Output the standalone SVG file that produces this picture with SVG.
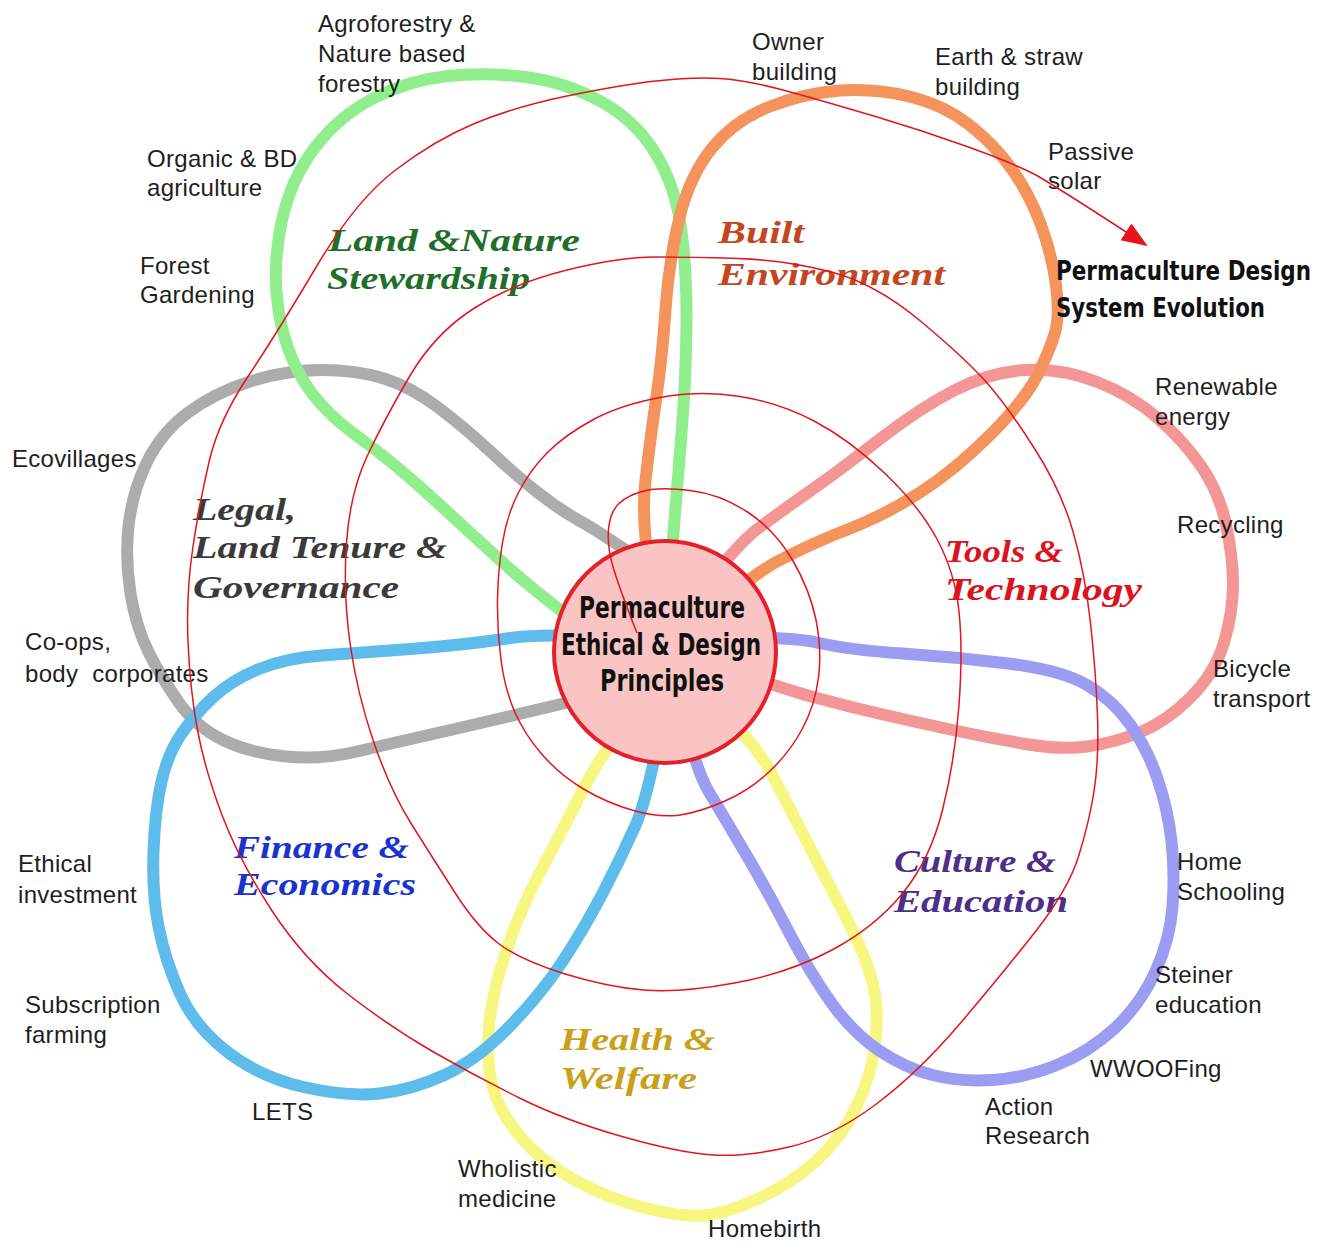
<svg xmlns="http://www.w3.org/2000/svg" width="1333" height="1243" viewBox="0 0 1333 1243">
<style>
.petal{fill:none;stroke-width:12;stroke-linecap:round;stroke-linejoin:round}
.lbl{font-family:"Liberation Sans",Arial,sans-serif;font-size:24px;fill:#1e1e1e;letter-spacing:0.3px}
.ttl{font-family:"Liberation Serif","DejaVu Serif",serif;font-style:italic;font-weight:bold;font-size:32px}
.core{font-family:"Liberation Sans Narrow","DejaVu Sans Condensed","Liberation Sans",sans-serif;font-weight:bold;fill:#111}
.spiral{fill:none;stroke:#e3141e;stroke-width:1.5}
</style>
<defs>
<marker id="arr" markerUnits="userSpaceOnUse" markerWidth="30" markerHeight="24" refX="24" refY="10" orient="auto">
<path d="M0,0 L26,10 L0,20 z" fill="#e8141c"/>
</marker>
</defs>
<rect width="1333" height="1243" fill="#ffffff"/>

<g id="legal">
<path class="petal" stroke="#acacac" d="M655,570 Q600,532 580,521 Q560,510 539,493.5 Q518,477 491,452 Q464,427 437.5,407 Q411,387 384,378.5 Q357,370 321.5,370 Q286,370 250,381.5 Q214,393 187.5,413 Q161,433 146.5,463 Q132,493 128.5,526.5 Q125,560 130.5,593.5 Q136,627 148.5,652 Q161,677 178.5,702 Q196,727 223,740 Q250,753 285.5,756.5 Q321,760 357,751.5 Q393,743 428.5,735 Q464,727 500,718.5 Q536,710 620,690"/>
<text class="ttl" fill="#3a3a3a" x="193" y="520" textLength="103" lengthAdjust="spacingAndGlyphs">Legal,</text>
<text class="ttl" fill="#3a3a3a" x="193" y="558" textLength="254" lengthAdjust="spacingAndGlyphs">Land Tenure &amp;</text>
<text class="ttl" fill="#3a3a3a" x="193" y="598" textLength="206" lengthAdjust="spacingAndGlyphs">Governance</text>
<text class="lbl" x="12" y="467">Ecovillages</text>
<text class="lbl" x="25" y="650">Co-ops,</text>
<text class="lbl" x="25" y="682" xml:space="preserve">body  corporates</text>
</g>

<g id="health">
<path class="petal" stroke="#f6f680" d="M640,700 Q598,760 581,793.5 Q564,827 542,868.5 Q520,910 506,951.5 Q492,993 489,1026.5 Q486,1060 492.5,1086 Q499,1112 520.5,1137 Q542,1162 574.5,1180 Q607,1198 643.5,1207.5 Q680,1217 702,1215.5 Q724,1214 756.5,1199.5 Q789,1185 814.5,1162.5 Q840,1140 856,1107.5 Q872,1075 875.5,1041 Q879,1007 872.5,982 Q866,957 849,923.5 Q832,890 810.5,848.5 Q789,807 771.5,773.5 Q754,740 700,690"/>
<text class="ttl" fill="#c9a01a" x="560" y="1050" textLength="155" lengthAdjust="spacingAndGlyphs">Health &amp;</text>
<text class="ttl" fill="#c9a01a" x="560" y="1089" textLength="137" lengthAdjust="spacingAndGlyphs">Welfare</text>
<text class="lbl" x="458" y="1177">Wholistic</text>
<text class="lbl" x="458" y="1207">medicine</text>
<text class="lbl" x="708" y="1237">Homebirth</text>
</g>

<g id="tools">
<path class="petal" stroke="#f49696" d="M680,620 Q733,547 758,528.5 Q783,510 811.5,490 Q840,470 880,439 Q920,408 955,390 Q990,372 1025.5,370 Q1061,368 1096,381.5 Q1131,395 1157,417.5 Q1183,440 1201,466 Q1219,492 1226,524.5 Q1233,557 1233,584.5 Q1233,612 1224,642.5 Q1215,673 1190.5,697.5 Q1166,722 1139.5,732.5 Q1113,743 1087,746.5 Q1061,750 1025.5,744 Q990,738 955,730.5 Q920,723 885,715 Q850,707 815,697.5 Q780,688 700,660"/>
<text class="ttl" fill="#d9141c" x="945" y="562" textLength="118" lengthAdjust="spacingAndGlyphs">Tools &amp;</text>
<text class="ttl" fill="#d9141c" x="945" y="600" textLength="197" lengthAdjust="spacingAndGlyphs">Technology</text>
<text class="lbl" x="1155" y="395">Renewable</text>
<text class="lbl" x="1155" y="425">energy</text>
<text class="lbl" x="1177" y="533">Recycling</text>
<text class="lbl" x="1213" y="677">Bicycle</text>
<text class="lbl" x="1213" y="707">transport</text>
</g>

<g id="land">
<path class="petal" stroke="#90ee8c" d="M600,640 Q536,593 500,560 Q464,527 428.5,494.5 Q393,462 357,436 Q321,410 303,380 Q285,350 278.5,310 Q272,270 281,225 Q290,180 315,147.5 Q340,115 375,97.5 Q410,80 448,76 Q486,72 525.5,77 Q565,82 600,101 Q635,120 655,152.5 Q675,185 681,227.5 Q687,270 686.5,325 Q686,380 681,440 Q676,500 668,600"/>
<text class="ttl" fill="#1f6e2a" x="328" y="251" textLength="252" lengthAdjust="spacingAndGlyphs">Land &amp;Nature</text>
<text class="ttl" fill="#1f6e2a" x="327" y="289" textLength="203" lengthAdjust="spacingAndGlyphs">Stewardship</text>
<text class="lbl" x="318" y="32">Agroforestry &amp;</text>
<text class="lbl" x="318" y="62">Nature based</text>
<text class="lbl" x="318" y="92">forestry</text>
<text class="lbl" x="147" y="167">Organic &amp; BD</text>
<text class="lbl" x="147" y="196">agriculture</text>
<text class="lbl" x="140" y="274">Forest</text>
<text class="lbl" x="140" y="303">Gardening</text>
</g>

<g id="built">
<path class="petal" stroke="#f4935c" d="M660,640 Q640,530 645,485 Q650,440 656,400 Q662,360 665.5,310 Q669,260 679.5,217.5 Q690,175 712.5,147.5 Q735,120 770,106.5 Q805,93 840,90.5 Q875,88 909.5,96.5 Q944,105 969.5,125 Q995,145 1012.5,170 Q1030,195 1041,225 Q1052,255 1056,285 Q1060,315 1055,332.5 Q1050,350 1037.5,375 Q1025,400 990,435 Q955,470 920,492.5 Q885,515 850,528.5 Q815,542 780,560 Q745,578 680,640"/>
<text class="ttl" fill="#c2461e" x="718" y="243" textLength="86" lengthAdjust="spacingAndGlyphs">Built</text>
<text class="ttl" fill="#c2461e" x="718" y="285" textLength="227" lengthAdjust="spacingAndGlyphs">Environment</text>
<text class="lbl" x="752" y="50">Owner</text>
<text class="lbl" x="752" y="80">building</text>
<text class="lbl" x="935" y="65">Earth &amp; straw</text>
<text class="lbl" x="935" y="95">building</text>
<text class="lbl" x="1048" y="160">Passive</text>
<text class="lbl" x="1048" y="189">solar</text>
</g>

<g id="finance">
<path class="petal" stroke="#5dbcec" d="M640,640 Q550,632 507,638.5 Q464,645 410.5,649 Q357,653 321.5,655.5 Q286,658 259,669 Q232,680 214,696.5 Q196,713 182,733 Q168,753 161.5,781.5 Q155,810 153.5,851.5 Q152,893 158.5,926.5 Q165,960 180,993.5 Q195,1027 227.5,1052 Q260,1077 303.5,1087 Q347,1097 379.5,1093.5 Q412,1090 444.5,1075 Q477,1060 509.5,1026.5 Q542,993 563.5,960 Q585,927 602.5,893.5 Q620,860 635,826.5 Q650,793 665,700"/>
<text class="ttl" fill="#1a33cc" x="234" y="858" textLength="175" lengthAdjust="spacingAndGlyphs">Finance &amp;</text>
<text class="ttl" fill="#1a33cc" x="234" y="895" textLength="182" lengthAdjust="spacingAndGlyphs">Economics</text>
<text class="lbl" x="18" y="872">Ethical</text>
<text class="lbl" x="18" y="903">investment</text>
<text class="lbl" x="25" y="1013">Subscription</text>
<text class="lbl" x="25" y="1043">farming</text>
<text class="lbl" x="252" y="1120">LETS</text>
</g>

<g id="culture">
<path class="petal" stroke="#9c9cf2" d="M700,640 Q783,635 816.5,642.5 Q850,650 902.5,653.5 Q955,657 1008,663.5 Q1061,670 1087,685 Q1113,700 1130.5,725 Q1148,750 1158,780 Q1168,810 1171.5,841.5 Q1175,873 1172.5,906.5 Q1170,940 1155,972.5 Q1140,1005 1114.5,1028.5 Q1089,1052 1057,1065 Q1025,1078 992.5,1080 Q960,1082 932.5,1075 Q905,1068 879,1050.5 Q853,1033 831.5,1003 Q810,973 788.5,931.5 Q767,890 745.5,853.5 Q724,817 709,792 Q694,767 680,700"/>
<text class="ttl" fill="#4b2f8a" x="894" y="872" textLength="162" lengthAdjust="spacingAndGlyphs">Culture &amp;</text>
<text class="ttl" fill="#4b2f8a" x="894" y="912" textLength="174" lengthAdjust="spacingAndGlyphs">Education</text>
<text class="lbl" x="1177" y="870">Home</text>
<text class="lbl" x="1177" y="900">Schooling</text>
<text class="lbl" x="1155" y="983">Steiner</text>
<text class="lbl" x="1155" y="1013">education</text>
<text class="lbl" x="1090" y="1077">WWOOFing</text>
<text class="lbl" x="985" y="1115">Action</text>
<text class="lbl" x="985" y="1144">Research</text>
</g>

<g id="principles">
<circle cx="665" cy="652" r="111" fill="#fbc4c4" stroke="#e4202a" stroke-width="4"/>
<text class="core" x="662" y="618" font-size="31" text-anchor="middle" textLength="166" lengthAdjust="spacingAndGlyphs">Permaculture</text>
<text class="core" x="661" y="655" font-size="31" text-anchor="middle" textLength="200" lengthAdjust="spacingAndGlyphs">Ethical &amp; Design</text>
<text class="core" x="662" y="691" font-size="31" text-anchor="middle" textLength="124" lengthAdjust="spacingAndGlyphs">Principles</text>
</g>

<g id="evolution">
<text class="core" x="1056" y="280" font-size="27" textLength="255" lengthAdjust="spacingAndGlyphs">Permaculture Design</text>
<text class="core" x="1056" y="317" font-size="27" textLength="209" lengthAdjust="spacingAndGlyphs">System Evolution</text>
</g>

<g id="connectors">
<path class="spiral" marker-end="url(#arr)" d="M637,633 Q620,590 613.5,568.5 Q607,547 608.5,529.5 Q610,512 619,503.5 Q628,495 644,491 Q660,487 690,490.5 Q720,494 747.5,512 Q775,530 792.5,560 Q810,590 816,620 Q822,650 818.5,677.5 Q815,705 802.5,728.5 Q790,752 770,771 Q750,790 725,801 Q700,812 680,815 Q660,818 633.5,810.5 Q607,803 583.5,789 Q560,775 542.5,755 Q525,735 515,712.5 Q505,690 501,660 Q497,630 497.5,600 Q498,570 502.5,542.5 Q507,515 518.5,492.5 Q530,470 547.5,452.5 Q565,435 592.5,420 Q620,405 660,397.5 Q700,390 740,396.5 Q780,403 815,421.5 Q850,440 885,473.5 Q920,507 937.5,540 Q955,573 959,611.5 Q963,650 959,705 Q955,760 942.5,810 Q930,860 902.5,893.5 Q875,927 832,950 Q789,973 734.5,983 Q680,993 643.5,990 Q607,987 563.5,973.5 Q520,960 498.5,943.5 Q477,927 455.5,893.5 Q434,860 412,825 Q390,790 373.5,741.5 Q357,693 350,643 Q343,593 346.5,543 Q350,493 367,456.5 Q384,420 409.5,376.5 Q435,333 474.5,308 Q514,283 567,270 Q620,257 656,257 Q692,257 738,258.5 Q784,260 829.5,271.5 Q875,283 921,321.5 Q967,360 987.5,383.5 Q1008,407 1034.5,448.5 Q1061,490 1073,531.5 Q1085,573 1090.5,623 Q1096,673 1097.5,716.5 Q1099,760 1094,791.5 Q1089,823 1078.5,856.5 Q1068,890 1035.5,931.5 Q1003,973 960.5,1023 Q918,1073 875,1105 Q832,1137 789,1147 Q746,1157 713,1155 Q680,1153 622,1136.5 Q564,1120 520.5,1098.5 Q477,1077 433.5,1052 Q390,1027 347,993.5 Q304,960 271.5,910 Q239,860 222,815 Q205,770 197.5,730 Q190,690 188,641.5 Q186,593 193,546.5 Q200,500 209.5,460 Q219,420 248,376.5 Q277,333 316.5,266.5 Q356,200 395.5,170 Q435,140 474.5,123.5 Q514,107 567,96 Q620,85 656,81 Q692,77 719.5,78.5 Q747,80 788.5,91.5 Q830,103 875.5,116.5 Q921,130 967,146.5 Q1013,163 1036,175 Q1065,192 1146,245"/>
</g>
</svg>
